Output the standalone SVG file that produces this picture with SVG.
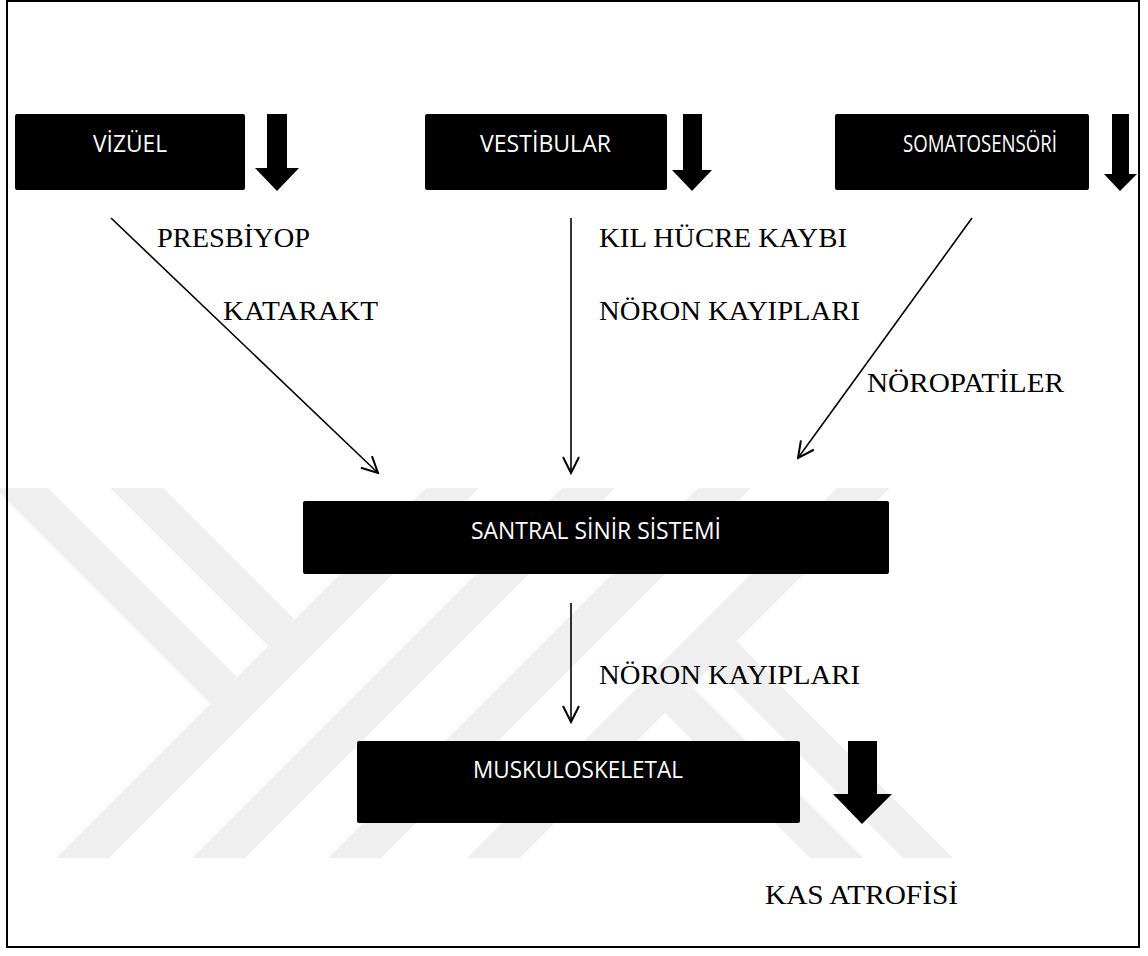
<svg xmlns="http://www.w3.org/2000/svg" width="1148" height="956" viewBox="0 0 1148 956">
<style>
.box{fill:#000}
.lbl{font-family:"Open Sans","Noto Sans",sans-serif;font-size:24.5px;fill:#fff;text-anchor:middle}
.note{font-family:"Liberation Serif","Times New Roman",serif;font-size:28px;fill:#000}
.wm{fill:#efefef}
.conn{stroke:#000;stroke-width:1.6;fill:none}
.blk{fill:#000}
</style>
<defs>
<marker id="v" viewBox="0 0 20 20" refX="18" refY="10" markerWidth="20" markerHeight="20" markerUnits="userSpaceOnUse" orient="auto">
<path d="M2,2 L18,10 L2,18" fill="none" stroke="#000" stroke-width="2"/>
</marker>
<clipPath id="wmclip"><rect x="0" y="488" width="1148" height="370"/></clipPath>
</defs>
<rect width="1148" height="956" fill="#fff"/>
<g id="watermark" clip-path="url(#wmclip)">
<polygon class="wm" points="-10,478 48,488 237,677 210.5,703.5 0,493"/>
<polygon class="wm" points="110,488 163,488 294.5,619.5 268,646"/>
<polygon class="wm" points="56,858 426,488 479,488 109,858"/>
<polygon class="wm" points="192,858 562,488 615,488 245,858"/>
<polygon class="wm" points="328,858 698,488 751,488 381,858"/>
<polygon class="wm" points="467,858 837,488 890,488 520,858"/>
<polygon class="wm" points="711.5,666.5 736.5,641.5 953,858 903,858"/>
<polygon class="wm" points="665,713 691.5,686.5 863,858 810,858"/>
</g>
<rect id="frame" x="7" y="1" width="1132" height="946" fill="none" stroke="#000" stroke-width="2"/>
<g id="connectors">
<line class="conn" x1="111" y1="218" x2="378" y2="473" marker-end="url(#v)"/>
<line class="conn" x1="571" y1="218" x2="571" y2="473" marker-end="url(#v)"/>
<line class="conn" x1="972" y1="218" x2="798" y2="458" marker-end="url(#v)"/>
<line class="conn" x1="571" y1="603" x2="571" y2="722" marker-end="url(#v)"/>
</g>
<g id="vizuel">
<rect class="box" x="15" y="114" width="230" height="76" rx="2"/>
<text class="lbl" x="130" y="152" textLength="74" lengthAdjust="spacingAndGlyphs">VİZÜEL</text>
<polygon class="blk" points="267,114 287,114 287,168 299,168 277,191 255,168 267,168"/>
</g>
<g id="vestibular">
<rect class="box" x="425" y="114" width="242" height="76" rx="2"/>
<text class="lbl" x="545.5" y="152" textLength="131" lengthAdjust="spacingAndGlyphs">VESTİBULAR</text>
<polygon class="blk" points="683,114 702,114 702,170 712,170 692,191 672,170 683,170"/>
</g>
<g id="somatosensori">
<rect class="box" x="835" y="114" width="254" height="76" rx="2"/>
<text class="lbl" x="980" y="152" textLength="154" lengthAdjust="spacingAndGlyphs">SOMATOSENSÖRİ</text>
<polygon class="blk" points="1112,114 1129,114 1129,174 1137,174 1120,191 1104,174 1112,174"/>
</g>
<g id="santral">
<rect class="box" x="303" y="501" width="586" height="73" rx="2"/>
<text class="lbl" x="596" y="539" textLength="250" lengthAdjust="spacingAndGlyphs">SANTRAL SİNİR SİSTEMİ</text>
</g>
<g id="muskuloskeletal">
<rect class="box" x="357" y="741" width="443" height="82" rx="2"/>
<text class="lbl" x="578" y="778" textLength="210" lengthAdjust="spacingAndGlyphs">MUSKULOSKELETAL</text>
<polygon class="blk" points="848,741 877,741 877,794 892,794 862,824 833,794 848,794"/>
</g>
<g id="labels">
<text class="note" x="157" y="247" textLength="153" lengthAdjust="spacingAndGlyphs">PRESBİYOP</text>
<text class="note" x="223" y="320" textLength="155" lengthAdjust="spacingAndGlyphs">KATARAKT</text>
<text class="note" x="599" y="247" textLength="248" lengthAdjust="spacingAndGlyphs">KIL HÜCRE KAYBI</text>
<text class="note" x="599" y="320" textLength="261" lengthAdjust="spacingAndGlyphs">NÖRON KAYIPLARI</text>
<text class="note" x="867" y="392" textLength="197" lengthAdjust="spacingAndGlyphs">NÖROPATİLER</text>
<text class="note" x="599" y="684" textLength="261" lengthAdjust="spacingAndGlyphs">NÖRON KAYIPLARI</text>
<text class="note" x="765" y="904" textLength="193" lengthAdjust="spacingAndGlyphs">KAS ATROFİSİ</text>
</g>
</svg>
